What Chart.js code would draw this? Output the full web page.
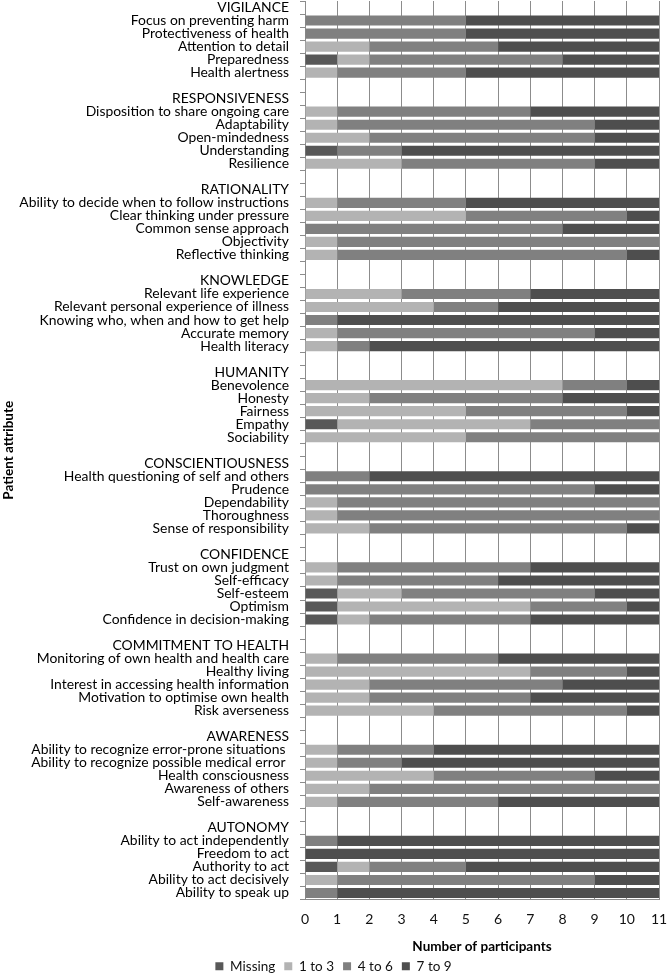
<!DOCTYPE html>
<html>
<head>
<meta charset="utf-8">
<script src="https://cdn.jsdelivr.net/npm/chart.js@4.4.1/dist/chart.umd.min.js"></script>
<style>
  html, body { margin: 0; padding: 0; background: #ffffff; }
  #wrap { width: 667px; height: 975px; position: relative; }
</style>
</head>
<body>
<div id="wrap"><canvas id="c"></canvas></div>
<script>
// ---------- DATA ----------
const categories = [
  'VIGILANCE', 'Focus on preventing harm', 'Protectiveness of health', 'Attention to detail', 'Preparedness', 'Health alertness', '',
  'RESPONSIVENESS', 'Disposition to share ongoing care', 'Adaptability', 'Open-mindedness', 'Understanding', 'Resilience', '',
  'RATIONALITY', 'Ability to decide when to follow instructions', 'Clear thinking under pressure', 'Common sense approach', 'Objectivity', 'Reflective thinking', '',
  'KNOWLEDGE', 'Relevant life experience', 'Relevant personal experience of illness', 'Knowing who, when and how to get help', 'Accurate memory', 'Health literacy', '',
  'HUMANITY', 'Benevolence', 'Honesty', 'Fairness', 'Empathy', 'Sociability', '',
  'CONSCIENTIOUSNESS', 'Health questioning of self and others', 'Prudence', 'Dependability', 'Thoroughness', 'Sense of responsibility', '',
  'CONFIDENCE', 'Trust on own judgment', 'Self-efficacy', 'Self-esteem', 'Optimism', 'Confidence in decision-making', '',
  'COMMITMENT TO HEALTH', 'Monitoring of own health and health care', 'Healthy living', 'Interest in accessing health information', 'Motivation to optimise own health', 'Risk averseness', '',
  'AWARENESS', 'Ability to recognize error-prone situations ', 'Ability to recognize possible medical error ', 'Health consciousness', 'Awareness of others', 'Self-awareness', '',
  'AUTONOMY', 'Ability to act independently', 'Freedom to act', 'Authority to act', 'Ability to act decisively', 'Ability to speak up'
];
const _ = null;
const missing = [
  _, 0, 0, 0, 1, 0, _,
  _, 0, 0, 0, 1, 0, _,
  _, 0, 0, 0, 0, 0, _,
  _, 0, 0, 0, 0, 0, _,
  _, 0, 0, 0, 1, 0, _,
  _, 0, 0, 0, 0, 0, _,
  _, 0, 0, 1, 1, 1, _,
  _, 0, 0, 0, 0, 0, _,
  _, 0, 0, 0, 0, 0, _,
  _, 0, 0, 1, 0, 0
];
const score1to3 = [
  _, 0, 0, 2, 1, 1, _,
  _, 1, 1, 2, 0, 3, _,
  _, 1, 5, 0, 1, 1, _,
  _, 3, 4, 0, 1, 1, _,
  _, 8, 2, 5, 6, 5, _,
  _, 0, 0, 1, 1, 2, _,
  _, 1, 1, 2, 6, 1, _,
  _, 1, 7, 2, 2, 4, _,
  _, 1, 1, 4, 2, 1, _,
  _, 0, 0, 1, 1, 0
];
const score4to6 = [
  _, 5, 5, 4, 6, 4, _,
  _, 6, 8, 7, 2, 6, _,
  _, 4, 5, 8, 10, 9, _,
  _, 4, 2, 1, 8, 1, _,
  _, 2, 6, 5, 4, 6, _,
  _, 2, 9, 10, 10, 8, _,
  _, 6, 5, 6, 3, 5, _,
  _, 5, 3, 6, 5, 6, _,
  _, 3, 2, 5, 9, 5, _,
  _, 1, 0, 3, 8, 1
];
const score7to9 = [
  _, 6, 6, 5, 3, 6, _,
  _, 4, 2, 2, 8, 2, _,
  _, 6, 1, 3, 0, 1, _,
  _, 4, 5, 10, 2, 9, _,
  _, 1, 3, 1, 0, 0, _,
  _, 9, 2, 0, 0, 1, _,
  _, 4, 5, 2, 1, 4, _,
  _, 5, 1, 3, 4, 1, _,
  _, 7, 8, 2, 0, 5, _,
  _, 10, 11, 6, 2, 10
];
const seriesNames = ['Missing', '1 to 3', '4 to 6', '7 to 9'];
const xTicks = [0, 1, 2, 3, 4, 5, 6, 7, 8, 9, 10, 11];

// ---------- STYLE ----------
const colors = ['#585858', '#b3b3b3', '#808080', '#4e4e4e'];
const FONT = 'Lato, "Open Sans", sans-serif';

// fit the category label font to the reference's label width
const mctx = document.createElement('canvas').getContext('2d');
mctx.font = '13px ' + FONT;
const wLong = mctx.measureText('Ability to decide when to follow instructions').width;
const labelSize = Math.min(14, 13 * 270 / wLong);

const seriesData = [missing, score1to3, score4to6, score7to9];
const datasets = seriesNames.map((name, i) => ({
  label: name,
  data: seriesData[i],
  backgroundColor: colors[i],
  borderWidth: 0,
  categoryPercentage: 1,
  barPercentage: 0.78
}));

new Chart(document.getElementById('c'), {
  type: 'bar',
  data: { labels: categories, datasets },
  options: {
    indexAxis: 'y',
    responsive: true,
    maintainAspectRatio: false,
    animation: false,
    layout: { padding: { left: 0, right: 0, top: 1, bottom: -8 } },
    plugins: {
      legend: {
        position: 'bottom',
        labels: {
          boxWidth: 8, boxHeight: 8, padding: 9,
          color: '#111', font: { family: FONT, size: 13.5 }
        }
      },
      tooltip: { enabled: false }
    },
    scales: {
      x: {
        stacked: true,
        min: 0, max: 11,
        afterBuildTicks: s => { s.ticks = xTicks.map(v => ({ value: v })); },
        ticks: { color: '#111', font: { family: FONT, size: 14 }, padding: 12 },
        grid: { color: '#8c8c8c', lineWidth: 1, drawTicks: false },
        border: { display: true, color: '#8c8c8c' },
        title: {
          display: true, text: 'Number of participants',
          color: '#000', font: { family: FONT, size: 13.5, weight: 'bold' },
          padding: { top: 8, bottom: -4 }
        },
        afterFit: s => { s.height = 51; s.paddingRight = 8; s.paddingLeft = 0; }
      },
      y: {
        stacked: true,
        ticks: {
          autoSkip: false, color: '#000', padding: 11,
          font: { family: FONT, size: labelSize }
        },
        grid: { offset: true, drawOnChartArea: false, tickLength: 5, color: '#8c8c8c' },
        border: { display: true, color: '#8c8c8c' },
        title: {
          display: true, text: 'Patient attribute',
          color: '#000', font: { family: FONT, size: 13.5, weight: 'bold' },
          padding: { top: 1, bottom: 0 }
        },
        afterFit: s => { s.width = 305; s.paddingTop = 0; s.paddingBottom = 0; }
      }
    }
  }
});
</script>
</body>
</html>
